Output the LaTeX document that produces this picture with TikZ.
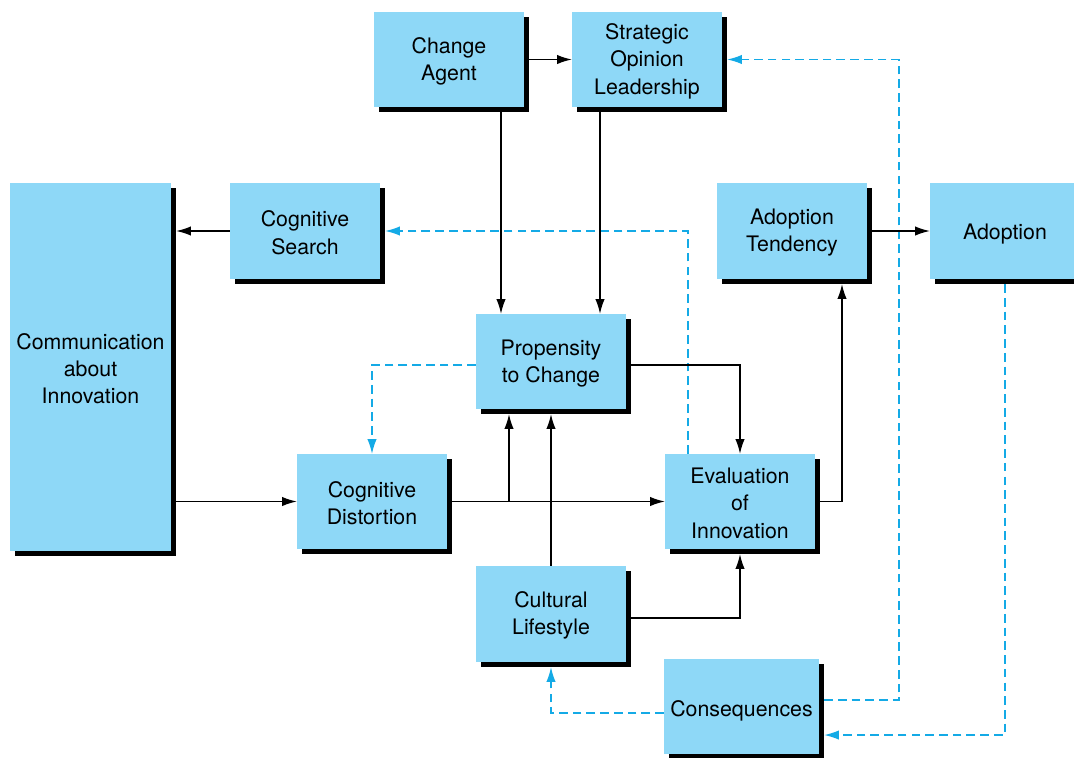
\documentclass[tikz,border=0pt]{standalone}
\usepackage{fontspec}
\setmainfont{TeX Gyre Heros}
\usetikzlibrary{arrows.meta,shadows}
\definecolor{boxfill}{RGB}{142,216,247}
\definecolor{dashblue}{RGB}{20,170,230}
\begin{document}
\begin{tikzpicture}[x=0.75pt,y=-0.75pt,
  box/.style={draw=none, fill=boxfill, inner sep=0pt, align=center,
    minimum width=112.5pt, minimum height=71.25pt,
    font=\fontsize{16}{20.5}\selectfont,
    drop shadow={shadow xshift=3.75pt, shadow yshift=-3.75pt, fill=black, opacity=1}},
  arr/.style={draw=black, line width=0.9pt, -{Latex[length=11pt,width=7pt]}},
  darr/.style={draw=dashblue, line width=0.9pt, dash pattern=on 6.5pt off 3.8pt,
    -{Latex[length=11pt,width=7pt,fill=dashblue]}}]
\useasboundingbox (0,0) rectangle (1074,757);
\fill[white] (0,0) rectangle (1074,757);
\clip (0,0) rectangle (1074,757);

% boxes
\node[box] (ca)  at (449,59.5)  {\strut Change\\Agent};
\node[box] (sol) at (647,59.5)  {\strut Strategic\\Opinion\\Leadership};
\node[box, minimum height=72pt] (cs)  at (305,231) {\strut Cognitive\\Search};
\node[box, minimum width=120.75pt, minimum height=276pt] (com) at (90.5,367) {\strut Communication\\about\\Innovation};
\node[box, minimum height=72pt] (at)  at (792,231) {\strut Adoption\\Tendency};
\node[box, minimum height=72pt] (ad)  at (1005,231) {\raisebox{-2.25pt}[\height][\depth]{Adoption}};
\node[box] (pr)  at (551,361.5) {\strut Propensity\\to Change};
\node[box] (cd)  at (372,501.5) {\strut Cognitive\\Distortion};
\node[box] (ev)  at (740,501.5) {\strut Evaluation\\of\\Innovation};
\node[box, minimum height=72pt] (cl)  at (551,614) {\strut Cultural\\Lifestyle};
\node[box, minimum width=116.25pt] (co) at (741.5,706.5) {\raisebox{-3.5pt}[\height][\depth]{Consequences}};

\coordinate (br) at (509,501.5);
\coordinate (k1) at (899,59.5);

% dashed feedback connectors
\draw[darr] ([yshift=-2.6pt]pr.west) -| (cd.north);
\draw[darr] ([xshift=-39pt]ev.north) |- ([xshift=3.75pt]cs.east);
\draw[darr] ([xshift=3.75pt,yshift=4.9pt]co.east) -| (k1) -- ([xshift=3.75pt]sol.east);
\draw[darr] ([yshift=-3.75pt]ad.south) |- ([xshift=3.75pt,yshift=-21.4pt]co.east);
\draw[darr] ([yshift=-4.9pt]co.west) -| ([yshift=-3.75pt]cl.south);

% solid connectors
\draw[arr] ([xshift=3.75pt]ca.east) -- (sol.west);
\draw[arr] ([xshift=39pt,yshift=-3.75pt]ca.south) -- ([xshift=39pt]ca.south |- pr.north);
\draw[arr] ([xshift=-35.25pt,yshift=-3.75pt]sol.south) -- ([xshift=-35.25pt]sol.south |- pr.north);
\draw[arr] (cs.west) -- ([xshift=3.75pt]com.east |- cs.west);
\draw[arr] ([xshift=3.75pt]at.east) -- (ad.west);
\draw[arr] ([xshift=3.75pt]com.east |- cd.west) -- (cd.west);
\draw[arr] ([xshift=3.75pt]cd.east) -- (ev.west);
\draw[arr] (br) -- ([yshift=-3.75pt]pr.south -| br);
\draw[arr] (cl.north) -- ([yshift=-3.75pt]pr.south);
\draw[arr] ([xshift=3.75pt,yshift=-2.6pt]pr.east) -| (ev.north);
\draw[arr] ([xshift=3.75pt]ev.east) -| ([xshift=37.5pt,yshift=-3.75pt]at.south);
\draw[arr] ([xshift=3.75pt,yshift=-3pt]cl.east) -| ([yshift=-3.75pt]ev.south);
\end{tikzpicture}
\end{document}
